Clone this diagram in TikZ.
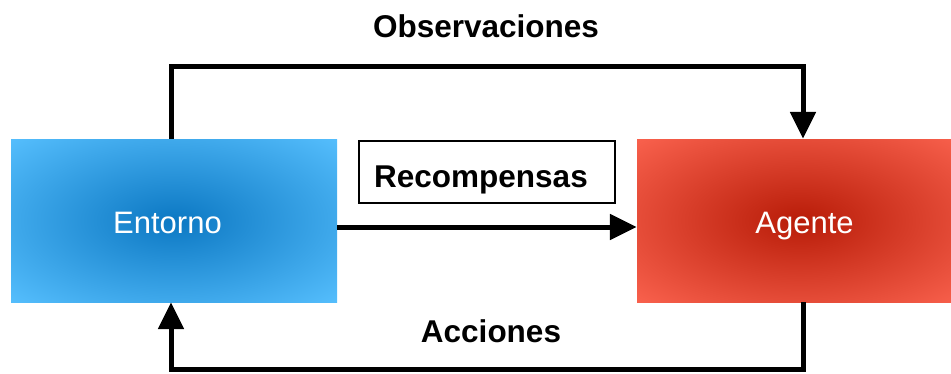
\documentclass[tikz,border=0pt]{standalone}
\usepackage{fontspec}
\setmainfont{Liberation Sans}
\usetikzlibrary{arrows.meta}

\definecolor{envdark}{RGB}{12,120,195}
\definecolor{envlight}{RGB}{84,189,252}
\definecolor{agdark}{RGB}{184,28,8}
\definecolor{aglight}{RGB}{248,96,76}

\pgfdeclareradialshading{envshade}{\pgfpoint{0bp}{0bp}}{color(0bp)=(envdark);color(35bp)=(envlight);color(50bp)=(envlight)}
\pgfdeclareradialshading{agshade}{\pgfpoint{0bp}{0bp}}{color(0bp)=(agdark);color(35bp)=(aglight);color(50bp)=(aglight)}

\tikzstyle{block} = [rectangle,minimum width=326pt,minimum height=163pt,inner sep=0pt,text=white,font=\fontsize{31}{37}\selectfont]
\tikzstyle{label} = [font=\fontsize{31.5}{37}\selectfont\bfseries,anchor=base]
\tikzstyle{link} = [line width=5pt,-{Triangle[length=27pt,width=25pt]}]

\begin{document}
\begin{tikzpicture}[x=1pt,y=-1pt]
	\useasboundingbox (0,0) rectangle (951,373);
	\node[block,shading=envshade] (env) at (174,220.5) {\hspace*{-13pt}\raisebox{-12.5pt}[0pt][0pt]{Entorno}};
	\node[block,shading=agshade] (agent) at (800,220.5) {\hspace*{9pt}\raisebox{-12.5pt}[0pt][0pt]{Agente}};
	\node[draw,line width=2pt,minimum width=256pt,minimum height=62pt,inner sep=0pt,font=\fontsize{31.5}{37}\selectfont\bfseries] (rew) at (487,172) {\hspace*{-12pt}\raisebox{-15.5pt}[0pt][0pt]{Recompensas}};
	\node[label] (obs) at (486,37) {Observaciones};
	\node[label] (act) at (491,342) {Acciones};
	
	\draw[link] ([xshift=-3pt]env.north) -- ++(0,-72) -| ([xshift=3pt]agent.north);
	\draw[link] ([yshift=-6.5pt]env.east) -- ([yshift=-6.5pt]agent.west);
	\draw[link] ([xshift=3pt]agent.south) -- ++(0,67) -| ([xshift=-3pt]env.south);
\end{tikzpicture}
\end{document}
